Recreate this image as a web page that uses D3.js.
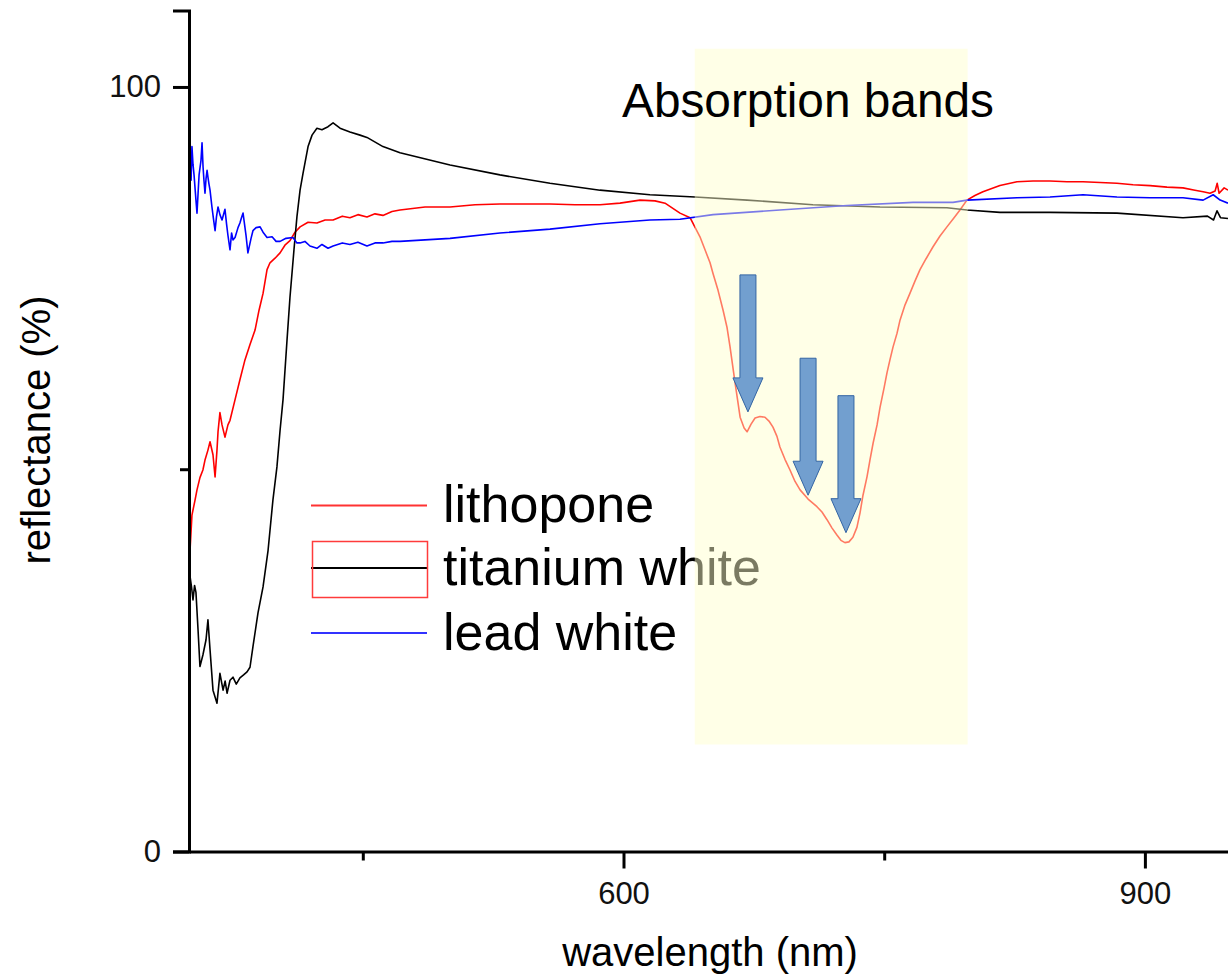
<!DOCTYPE html>
<html>
<head>
<meta charset="utf-8">
<script src="https://cdn.jsdelivr.net/npm/d3@7"></script>
<style>
  body { margin: 0; background: #fff; }
  svg { display: block; }
  text { font-family: "Liberation Sans", Arial, sans-serif; }
</style>
</head>
<body>
<svg id="chart" width="1228" height="975"></svg>
<script>
// Reflectance spectra (wavelength in nm, reflectance in %)
const lithoponeNm = [350.6,351.7,353.5,354.6,356.3,358,359.2,360.9,362.1,363.8,365,366.1,366.7,367.8,369,370.7,372.4,373.6,376.5,379.3,382.2,385.1,388,390.3,392.6,394.9,396.6,399.5,402.4,405.2,408.1,411,413.9,418.5,423.6,428.3,432.9,438.2,442.6,447.2,452.4,457,461.6,466.8,471.4,485.8,500.2,514.6,528.9,543.3,557.7,572.1,586.5,598,609.5,618.1,623.9,632.5,638.3,644,646.9,649.8,651.5,654.4,657.3,659.6,661.3,664.2,667.1,669.4,671.1,673.4,675.7,678.5,681.4,683.7,686,688.3,690,692.9,695.8,698.7,701.6,706.2,711.3,714.2,717.1,720,722.8,725.1,727.4,729.7,732,734.3,736.1,737.8,740.1,741.8,743.6,745.9,747.6,749.9,751.6,753.3,755.1,757.4,759.1,762,764.8,767.7,770.6,774,778.1,782.1,786.1,790.2,793.6,797.6,802.2,806.8,816.6,826.4,835.6,845.4,855.2,864.4,874.2,883.9,893.2,903,912.7,921.9,928.8,933.5,937.5,940.4,941.6,942.7,945.6,947.8];
const lithoponeR = [39.4,44.0,46.0,47.3,48.9,49.9,51.2,52.5,53.6,51.9,49.0,52.5,54.9,57.4,55.8,54.2,55.8,56.4,59.1,61.7,64.3,66.3,68.2,70.8,73.0,76.1,77.0,77.6,78.3,79.3,79.9,81.0,81.7,82.3,82.2,82.6,82.6,83.1,82.9,83.3,83.0,83.4,83.2,83.7,83.9,84.3,84.3,84.6,84.7,84.7,84.7,84.6,84.6,84.8,85.2,85.1,84.8,83.5,82.9,80.4,78.7,77.0,75.6,73.4,70.8,68.5,66.0,61.3,56.8,55.4,54.9,55.9,56.7,56.9,56.8,56.3,55.5,54.3,52.9,51.3,49.9,48.4,47.3,46.1,45.1,44.4,43.4,42.3,41.4,40.7,40.4,40.5,41.1,42.4,44.3,46.6,49.0,51.2,53.4,55.8,58.1,60.6,62.6,64.3,66.0,67.8,69.5,71.5,73.0,74.6,76.1,77.5,79.1,80.5,81.7,82.9,83.9,85.2,85.8,86.3,87.1,87.6,87.7,87.7,87.6,87.6,87.5,87.4,87.2,87.1,86.9,86.8,86.5,86.3,86.1,86.4,87.4,86.1,86.8,86.5];

const titaniumNm = [350.6,351.5,352.3,353.2,354,355.2,356.3,358,359.8,360.9,362.1,363.8,366.1,367.8,369.6,370.8,371.9,373.6,375.3,377.2,379.3,381.4,383.4,385.1,386.8,389.7,392.6,395.5,398.3,400.6,402.4,404.1,406.4,408.1,410.4,412.1,413.9,415.6,418.5,420.8,423.6,426.5,430,432.9,436.9,442.6,448.4,452.4,461.6,471.4,500.2,528.9,557.7,586.5,615.2,641.1,671.1,709,747.6,786.1,797.6,816.6,845.4,883.9,921.9,936,939.5,941.5,943.5,947.8];
const titaniumR = [36.0,34.5,32.9,34.8,33.9,29.0,24.2,25.7,27.7,30.3,26.4,21.1,19.4,23.3,21.1,22.3,20.7,22.4,22.8,21.9,22.7,23.1,23.5,24.1,26.8,31.2,34.6,39.4,46.0,50.3,55.1,59.1,66.9,72.5,78.7,83.0,86.5,88.7,92.2,93.7,94.6,94.4,94.8,95.3,94.6,94.1,93.7,93.4,92.2,91.4,89.8,88.5,87.4,86.5,85.9,85.6,85.2,84.6,84.3,84.2,83.9,83.6,83.6,83.5,82.9,83.1,82.6,83.8,82.9,82.8];

const leadNm = [350.6,351.2,351.7,352.3,352.9,354,354.6,355.2,355.8,356.9,357.5,358.1,358.6,359.2,359.8,360.4,360.9,361.5,362.1,363.2,364.1,365,365.8,366.7,367.8,369,370.7,371.6,372.4,373.6,374.5,375.3,376.5,378.2,379.3,380.2,381.1,382.8,383.9,385.7,386.8,388.6,390.9,392.6,394.9,397.8,400.1,402.4,405.8,409.8,412.1,413.9,416.7,419.6,423.6,426.5,430,432.9,438.2,442.6,447.2,452.4,457,461.6,466.8,471.4,500.2,528.9,557.7,586.5,615.2,632.5,651.5,690,728.6,766.6,789.6,797.6,826.4,845.4,864.4,883.9,903,921.9,933.5,939.3,943.3,947.8];
const leadR = [91.8,87.8,92.2,89.9,88.5,85.2,83.5,86.0,88.5,90.4,92.7,89.5,87.8,86.1,88.0,89.1,88.2,87.3,86.5,84.3,82.7,81.2,83.0,84.3,83.3,82.6,84.0,82.1,80.6,78.7,80.9,80.0,80.3,81.6,82.2,82.9,83.5,80.6,78.3,80.2,81.2,81.6,81.7,81.0,80.3,80.4,79.8,79.8,80.2,80.3,79.6,79.6,79.8,79.2,78.9,79.4,78.9,79.2,79.6,79.4,79.7,79.2,79.6,79.6,79.8,79.8,80.2,80.9,81.4,82.1,82.6,82.7,83.3,83.9,84.5,84.9,84.9,85.2,85.5,85.6,85.9,85.6,85.5,85.5,85.2,85.9,85.2,84.8];

const seriesLabels = ["lithopone", "titanium white", "lead white"];

// Highlighted absorption region (nm) and its vertical extent (%)
const bandRange = [641, 798];
const bandReflectance = [14, 105];
const bandTitle = "Absorption bands";

// Absorption features marked with arrows: wavelength (nm) and reflectance at the arrow tip (%)
const featureNm = [671.6, 706.2, 728.0];
const featureR = [57.5, 46.6, 41.7];

// Axis ticks
const xTicks = [450, 600, 750, 900];
const xTickLabels = ["", "600", "", "900"];
const yTicks = [0, 50, 100];
const yTickLabels = ["0", "", "100"];

const colors = ["#ff0000", "#000000", "#0000ff"];
const series = [
  { nm: lithoponeNm, r: lithoponeR },
  { nm: titaniumNm, r: titaniumR },
  { nm: leadNm, r: leadR }
];

const svg = d3.select("#chart");
const x = d3.scaleLinear().domain([350, 950]).range([189, 189 + 600 * 1.738]);
const y = d3.scaleLinear().domain([0, 110]).range([851.5, 10.5]);

// Spectra
const line = d3.line().x(d => x(d[0])).y(d => y(d[1]));
series.forEach((s, i) => {
  svg.append("path")
    .datum(s.nm.map((v, k) => [v, s.r[k]]))
    .attr("fill", "none")
    .attr("stroke", colors[i])
    .attr("stroke-width", 1.6)
    .attr("stroke-linejoin", "round")
    .attr("d", line);
});

// Legend
const legend = svg.append("g");
const legendRows = [505.5, 568, 633];
seriesLabels.forEach((name, i) => {
  legend.append("line")
    .attr("x1", 311).attr("x2", 427)
    .attr("y1", legendRows[i]).attr("y2", legendRows[i])
    .attr("stroke", colors[i]).attr("stroke-width", 2).attr("opacity", i === 1 ? 1 : 0.8);
  legend.append("text")
    .attr("x", 443).attr("y", legendRows[i] + 16.5)
    .attr("font-size", 52).attr("fill", "#000")
    .text(name);
});
legend.append("rect")
  .attr("x", 312.5).attr("y", 541.5).attr("width", 115).attr("height", 56)
  .attr("fill", "none").attr("stroke", "#ff3b3b").attr("stroke-width", 1.5);

// Translucent highlight over the absorption region
svg.append("rect")
  .attr("x", x(bandRange[0])).attr("width", x(bandRange[1]) - x(bandRange[0]))
  .attr("y", y(bandReflectance[1])).attr("height", y(bandReflectance[0]) - y(bandReflectance[1]))
  .attr("fill", "#ffffcc").attr("opacity", 0.48);

svg.append("text")
  .attr("x", 622).attr("y", 117)
  .attr("font-size", 47.8).attr("fill", "#000")
  .text(bandTitle);

// Arrows pointing down at each feature
const arrowLen = 137, shaftHalf = 8, headHalf = 15, headLen = 34;
featureNm.forEach((nm, i) => {
  const tx = x(nm), ty = y(featureR[i]);
  const pts = [
    [tx - shaftHalf, ty - arrowLen], [tx + shaftHalf, ty - arrowLen],
    [tx + shaftHalf, ty - headLen], [tx + headHalf, ty - headLen],
    [tx, ty], [tx - headHalf, ty - headLen], [tx - shaftHalf, ty - headLen]
  ];
  svg.append("polygon")
    .attr("points", pts.map(p => p.join(",")).join(" "))
    .attr("fill", "#729fcf").attr("stroke", "#3465a4").attr("stroke-width", 1);
});

// Axes
const xAxis = svg.append("g")
  .attr("transform", `translate(0,${y(0)})`)
  .call(d3.axisBottom(x).tickValues(xTicks).tickSizeOuter(0)
    .tickFormat((d, i) => xTickLabels[i]).tickPadding(24));
xAxis.selectAll(".tick line").attr("y2", (d, i) => xTickLabels[i] ? 17 : 9);

const yAxis = svg.append("g")
  .attr("transform", `translate(${x(350)},0)`)
  .call(d3.axisLeft(y).tickValues(yTicks).tickSizeOuter(0)
    .tickFormat((d, i) => yTickLabels[i]).tickSize(16).tickPadding(12));
yAxis.selectAll(".tick line").attr("x2", (d, i) => yTickLabels[i] ? -16 : -9);

[xAxis, yAxis].forEach(g => {
  g.select(".domain").attr("stroke", "#000").attr("stroke-width", 3);
  g.selectAll(".tick line").attr("stroke", "#000").attr("stroke-width", 3);
  g.selectAll(".tick text")
    .attr("font-family", "Liberation Sans, Arial, sans-serif")
    .attr("font-size", 31).attr("fill", "#111");
});

// Axis titles
svg.append("text")
  .attr("x", 710).attr("y", 966)
  .attr("text-anchor", "middle").attr("font-size", 40)
  .text("wavelength (nm)");
svg.append("text")
  .attr("transform", "translate(50,430) rotate(-90)")
  .attr("text-anchor", "middle").attr("font-size", 40)
  .text("reflectance (%)");
</script>
</body>
</html>
